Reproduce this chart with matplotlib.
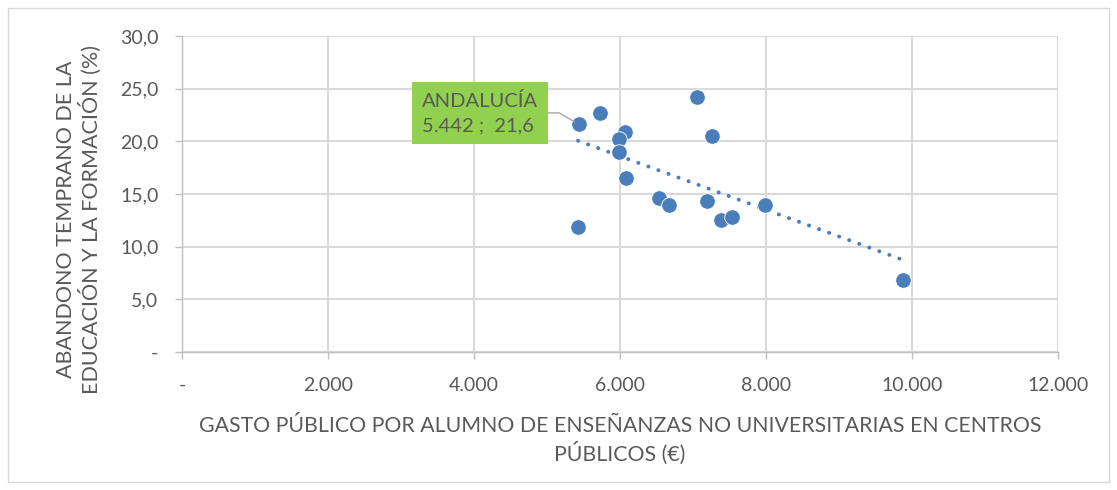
import matplotlib
matplotlib.use("Agg")
import matplotlib.pyplot as plt
import numpy as np
from matplotlib.patches import Rectangle

plt.rcParams["font.family"] = ["Lato", "DejaVu Sans"]

# gasto por alumno (€) y abandono temprano (%) por comunidad
gasto = [5442, 5726, 7050, 6073, 5991, 5986, 7260, 6082, 5425,
         6530, 6675, 7196, 7388, 7534, 7986, 9872]
abandono = [21.6, 22.7, 24.2, 20.9, 20.2, 19.0, 20.5, 16.5, 11.9,
            14.6, 14.0, 14.3, 12.5, 12.8, 14.0, 6.8]
etiqueta = "ANDALUCÍA\n5.442 ;  21,6"

x_ticks = [0, 2000, 4000, 6000, 8000, 10000, 12000]
x_labels = ["-", "2.000", "4.000", "6.000", "8.000", "10.000", "12.000"]
y_ticks = [0, 5, 10, 15, 20, 25, 30]
y_labels = ["-", "5,0", "10,0", "15,0", "20,0", "25,0", "30,0"]

gray_txt = "#595959"
grid_c = "#D9D9D9"
blue = "#4A7EBB"

fig = plt.figure(figsize=(11.17, 4.9), dpi=100)
fig.patches.append(Rectangle((0.007, 0.016), 0.986, 0.968, transform=fig.transFigure,
                             fill=False, edgecolor="#D9D9D9", linewidth=1))
ax = fig.add_axes([0.1629, 0.2816, 0.7843, 0.6449])

ax.scatter(gasto, abandono, s=125, color=blue, edgecolor="white", linewidth=0.6, zorder=3)

# linea de tendencia lineal
m, b = np.polyfit(gasto, abandono, 1)
xs = np.array([min(gasto), max(gasto)])
ax.plot(xs, m * xs + b, linestyle=(0, (0.05, 2.7)), color=blue, linewidth=2.8,
        dash_capstyle="round", zorder=2)

ax.set_xlim(0, 12000)
ax.set_ylim(0, 30)
ax.set_xticks(x_ticks)
ax.set_xticklabels(x_labels)
ax.set_yticks(y_ticks)
ax.set_yticklabels(y_labels)
ax.grid(True, color=grid_c, linewidth=1.5)
ax.set_axisbelow(True)
for s in ["top", "right"]:
    ax.spines[s].set_visible(False)
for s in ["left", "bottom"]:
    ax.spines[s].set_color("#BFBFBF")
    ax.spines[s].set_linewidth(1)
ax.tick_params(axis="both", colors="#BFBFBF", length=5, width=1, labelsize=14,
               labelcolor=gray_txt)
ax.tick_params(axis="x", pad=13)
ax.tick_params(axis="y", pad=12)

ax.set_xlabel("GASTO PÚBLICO POR ALUMNO DE ENSEÑANZAS NO UNIVERSITARIAS EN CENTROS\nPÚBLICOS (€)",
              fontsize=15.3, color=gray_txt, labelpad=16, linespacing=1.3)
ax.set_ylabel("ABANDONO TEMPRANO DE LA\nEDUCACIÓN Y LA FORMACIÓN (%)",
              fontsize=15.5, color=gray_txt, linespacing=1.15)
ax.yaxis.set_label_coords(-0.091, 0.42)

# etiqueta de Andalucia
ax.annotate(etiqueta, xy=(gasto[0], abandono[0]), xytext=(4080, 22.7),
            ha="center", va="center", multialignment="left",
            fontsize=14.5, color=gray_txt, linespacing=1.5,
            bbox=dict(boxstyle="square,pad=0.5", facecolor="#92D050", edgecolor="none"),
            arrowprops=dict(arrowstyle="-", color="#A6A6A6", linewidth=1,
                            connectionstyle="angle,angleA=0,angleB=-30,rad=0",
                            shrinkA=0, shrinkB=4),
            zorder=4)

fig.savefig("out.png", dpi=100)
